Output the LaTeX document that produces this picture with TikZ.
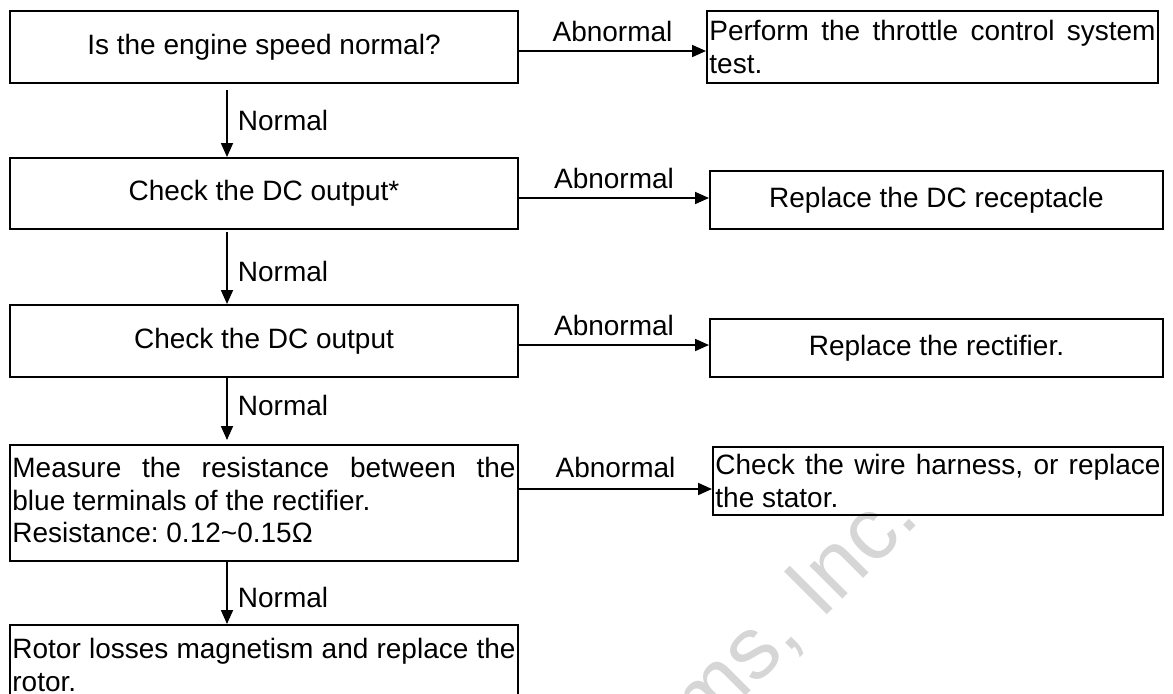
\documentclass[tikz,border=0pt]{standalone}
\usepackage{fontspec}
\setmainfont{Liberation Sans}
\usetikzlibrary{arrows.meta,calc}
\frenchspacing
\begin{document}
\begin{tikzpicture}[x=0.5pt,y=-0.5pt,
  font=\fontsize{14pt}{16.3pt}\selectfont,
  box/.style={draw, line width=1pt, inner xsep=1.2pt, inner ysep=0pt, anchor=north west, align=center},
  jbox/.style={box, align=justify},
  arr/.style={line width=0.9pt, -{Triangle[length=7pt,width=6pt]}},
  lab/.style={inner sep=0pt},
  wm/.style={text=black!16, rotate=45, inner sep=0pt, font=\fontsize{44pt}{44pt}\selectfont}
]
\useasboundingbox (0,0) rectangle (1173,693);
\clip (0,0) rectangle (1173,693);

% watermark
\node[wm, anchor=base east] (wmark) at (922,520) {tems, Inc.};

% left column
\node[box, minimum width=254pt, minimum height=36pt] (b1) at (9,10) {\raisebox{-2pt}{Is the engine speed normal?}};
\node[box, minimum width=254pt, minimum height=35.5pt] (b2) at (9,157) {Check the DC output*};
\node[box, minimum width=254pt, minimum height=36pt] (b3) at (9,304) {Check the DC output};
\node[jbox, minimum width=254pt, minimum height=58pt, text width=251.6pt] (b4) at (9,444)
  {Measure the resistance between the\linebreak blue terminals of the rectifier.\\Resistance: 0.12\textasciitilde0.15Ω\vspace{3pt}};
\node[jbox, minimum width=254pt, minimum height=40pt, text width=251.6pt] (b5) at (9,624)
  {Rotor losses magnetism and replace the\linebreak rotor.};

% right column
\node[jbox, minimum width=225.5pt, minimum height=36pt, text width=223.1pt] (r1) at (706,10)
  {Perform the throttle control system\linebreak test.};
\node[box, minimum width=226.5pt, minimum height=29pt] (r2) at (709,170) {Replace the DC receptacle};
\node[box, minimum width=226.5pt, minimum height=29pt] (r3) at (709,318) {Replace the rectifier.};
\node[jbox, minimum width=225pt, minimum height=34pt, text width=222.6pt] (r4) at (712,446)
  {Check the wire harness, or replace\linebreak the stator.};

% vertical connectors
\coordinate (col) at (227,0);
\draw[arr, shorten <=3pt] (b1.south -| col) -- (b2.north -| col)
  node[lab, midway, right=5pt] {Normal};
\draw[arr, shorten <=1pt] (b2.south -| col) -- (b3.north -| col)
  node[lab, midway, right=5pt, yshift=-2pt] {Normal};
\draw[arr, shorten >=2pt] (b3.south -| col) -- (b4.north -| col)
  node[lab, midway, right=5pt, yshift=3pt] {Normal};
\draw[arr] (b4.south -| col) -- (b5.north -| col)
  node[lab, midway, right=5pt, yshift=-2pt] {Normal};

% horizontal connectors
\draw[arr] ($(b1.east)+(0,4)$) -- ($(b1.east -| r1.west)+(0,4)$)
  node[lab, midway, above=4pt] {Abnormal};
\draw[arr] ($(b2.east)+(0,4.5)$) -- ($(b2.east -| r2.west)+(0,4.5)$)
  node[lab, midway, above=4pt] {Abnormal};
\draw[arr] ($(b3.east)+(0,4)$) -- ($(b3.east -| r3.west)+(0,4)$)
  node[lab, midway, above=4pt] {Abnormal};
\draw[arr] ($(b4.east)+(0,-14)$) -- ($(b4.east -| r4.west)+(0,-14)$)
  node[lab, midway, above=5pt] {Abnormal};
\end{tikzpicture}
\end{document}
